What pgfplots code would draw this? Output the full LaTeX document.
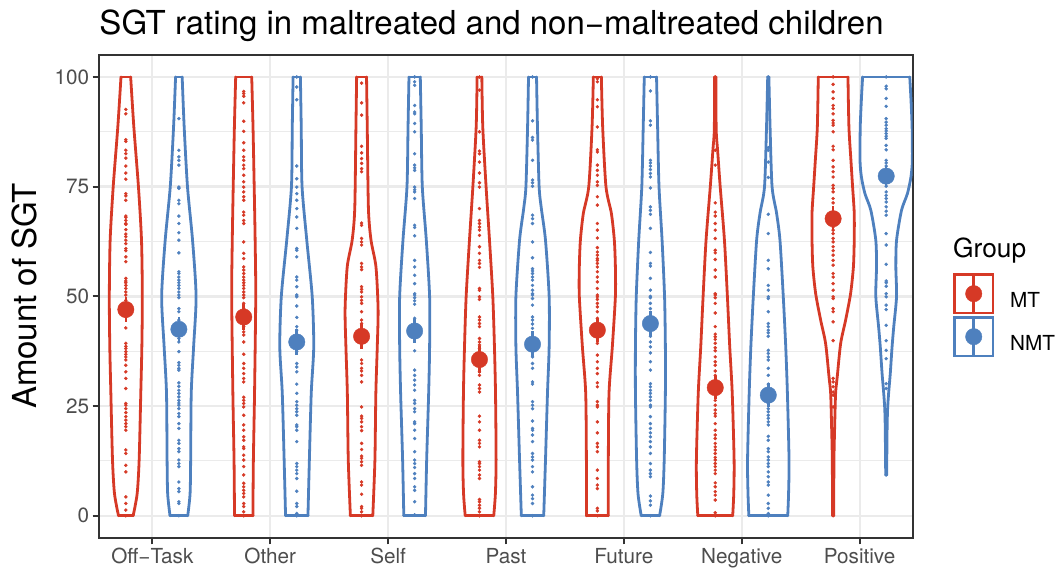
\documentclass[border=0pt]{standalone}
\usepackage{pgfplots}
\pgfplotsset{compat=1.18}
\usepackage{pgfplotstable}
\usepackage{fontspec}
\setmainfont{TeX Gyre Heros}
\definecolor{mtred}{RGB}{214,57,38}
\definecolor{nmtblue}{RGB}{78,128,190}
\definecolor{gridgray}{RGB}{235,235,235}
\definecolor{bordergray}{RGB}{51,51,51}
\definecolor{ticktext}{RGB}{77,77,77}

% violin half-widths (category units): y w
\pgfplotstableread{
y w
0 0.062
5 0.096
12.7 0.113
28 0.127
38.5 0.136
50 0.140
62.8 0.133
75 0.107
88.6 0.068
100 0.041
}\vOffMT
\pgfplotstableread{
y w
0 0.075
5 0.095
12.7 0.100
28 0.105
38.5 0.125
50 0.146
62.8 0.116
75 0.073
88.6 0.045
100 0.028
}\vOffNMT
\pgfplotstableread{
y w
0 0.078
12.7 0.082
28 0.092
50 0.102
62.8 0.097
75 0.089
88.6 0.079
100 0.068
}\vOthMT
\pgfplotstableread{
y w
0 0.095
12.7 0.107
28 0.123
38.5 0.144
50 0.131
62.8 0.085
75 0.045
88.6 0.038
100 0.031
}\vOthNMT
\pgfplotstableread{
y w
0 0.095
12.7 0.113
28 0.121
38.5 0.133
47 0.140
56.7 0.122
62.8 0.080
70 0.058
88.6 0.048
100 0.042
}\vSelfMT
\pgfplotstableread{
y w
0 0.092
12.7 0.102
28 0.119
38.5 0.127
50 0.127
62.8 0.099
75 0.065
88.6 0.056
100 0.048
}\vSelfNMT
\pgfplotstableread{
y w
0 0.121
5 0.135
12.7 0.141
28 0.136
38.5 0.127
50 0.113
62.8 0.085
75 0.056
88.6 0.028
100 0.020
}\vPastMT
\pgfplotstableread{
y w
0 0.095
12.7 0.110
28 0.127
38.5 0.141
50 0.141
62.8 0.110
70 0.075
75 0.056
88.6 0.042
100 0.034
}\vPastNMT
\pgfplotstableread{
y w
0 0.093
12.7 0.093
28 0.099
38.5 0.127
50 0.153
56.7 0.153
62.8 0.144
68.9 0.119
75 0.073
88.6 0.045
100 0.034
}\vFutMT
\pgfplotstableread{
y w
0 0.078
5 0.105
12.7 0.117
28 0.127
38.5 0.127
50 0.120
62.8 0.099
75 0.073
88.6 0.061
100 0.052
}\vFutNMT
\pgfplotstableread{
y w
0 0.148
5 0.157
12.7 0.160
28 0.144
38.5 0.123
50 0.103
62.8 0.078
75 0.042
83.3 0.020
88 0.008
100 0.006
}\vNegMT
\pgfplotstableread{
y w
0 0.165
5 0.172
12.7 0.176
28 0.162
38.5 0.148
50 0.127
62.8 0.099
69 0.070
75 0.032
88.6 0.015
100 0.005
}\vNegNMT
\pgfplotstableread{
y w
0 0.005
12.7 0.007
20.3 0.013
27.9 0.021
31.7 0.035
39.3 0.064
44.6 0.106
50.6 0.148
56.7 0.172
62.8 0.179
69 0.179
75 0.165
81 0.151
88.6 0.134
100 0.126
}\vPosMT
\pgfplotstableread{
y w
9.3 0.004
20 0.008
24.3 0.012
28 0.021
32.5 0.035
38.5 0.050
43 0.064
50 0.088
56.7 0.082
62.8 0.088
69.6 0.130
73.4 0.180
77.2 0.210
81 0.222
88.6 0.220
95 0.210
100 0.200
}\vPosNMT

\pgfplotsset{
  vmt/.style={mtred, line width=2.8pt, line join=round, line cap=round, mark=none, forget plot},
  vnmt/.style={nmtblue, line width=2.8pt, line join=round, line cap=round, mark=none, forget plot},
  dotsty/.style={only marks, mark=*, mark size=1.55pt, mark options={draw=none}, forget plot},
  mtleg/.style={legend image code/.code={
    \draw[mtred, line width=2.6pt] (0pt,-12pt) rectangle (38.4pt,26.4pt);
    \draw[mtred, line width=2.6pt] (19.2pt,-11pt) -- (19.2pt,25.3pt);
    \fill[mtred] (19.2pt,7.2pt) circle (8.2pt);}},
  nmtleg/.style={legend image code/.code={
    \draw[nmtblue, line width=2.6pt] (0pt,-12pt) rectangle (38.4pt,26.4pt);
    \draw[nmtblue, line width=2.6pt] (19.2pt,-11pt) -- (19.2pt,25.3pt);
    \fill[nmtblue] (19.2pt,7.2pt) circle (8.2pt);}},
}
% #1 style, #2 centre, #3 half-width table, #4 lowest y, #5 width there, #6 highest y, #7 width there
\newcommand{\violin}[7]{%
  \addplot[#1, smooth, tension=0.45] table[x expr=#2+\thisrow{w}, y=y]{#3};
  \addplot[#1, smooth, tension=0.45] table[x expr=#2-\thisrow{w}, y=y]{#3};
  \addplot[#1] table[row sep=\\, x expr=#2+\thisrow{w}, y=y]{y w\\ #4 -#5\\ #4 #5\\};
  \addplot[#1] table[row sep=\\, x expr=#2+\thisrow{w}, y=y]{y w\\ #6 -#7\\ #6 #7\\};
}

\begin{document}
\begin{tikzpicture}
\useasboundingbox (-99.3pt,-36.3pt) rectangle (957.7pt,537.7pt);
\begin{axis}[
  at={(0pt,0pt)}, anchor=south west,
  scale only axis, width=813.4pt, height=482.7pt,
  xmin=0.55, xmax=7.45, ymin=-5, ymax=105,
  xtick={1,2,3,4,5,6,7},
  xticklabels={Off−Task,Other,Self,Past,Future,Negative,Positive},
  ytick={0,25,50,75,100},
  minor ytick={12.5,37.5,62.5,87.5},
  xmajorgrids, ymajorgrids, yminorgrids,
  major grid style={line width=2.3pt, color=gridgray},
  minor grid style={line width=1.15pt, color=gridgray},
  axis line style={line width=2pt, color=bordergray},
  tick align=outside, tick pos=left,
  major tick length=6.7pt, minor tick length=0pt,
  tick style={line width=2pt, color=bordergray},
  ticklabel style={font=\fontsize{20.7}{24}\selectfont, text=ticktext},
  /pgf/number format/assume math mode=true,
  legend style={at={(1.0498,0.548)}, anchor=north west, draw=none, fill=none,
    inner sep=0pt, outer sep=0pt, row sep=2pt, column sep=14pt,
    font=\fontsize{20.7}{24}\selectfont},
  legend cell align=left,
]
\addlegendimage{mtleg}\addlegendentry{MT}
\addlegendimage{nmtleg}\addlegendentry{NMT}

\violin{vmt}{0.775}{\vOffMT}{0}{0.062}{100}{0.041}
\violin{vnmt}{1.225}{\vOffNMT}{0}{0.075}{100}{0.028}
\violin{vmt}{1.775}{\vOthMT}{0}{0.078}{100}{0.068}
\violin{vnmt}{2.225}{\vOthNMT}{0}{0.095}{100}{0.031}
\violin{vmt}{2.775}{\vSelfMT}{0}{0.095}{100}{0.042}
\violin{vnmt}{3.225}{\vSelfNMT}{0}{0.092}{100}{0.048}
\violin{vmt}{3.775}{\vPastMT}{0}{0.121}{100}{0.020}
\violin{vnmt}{4.225}{\vPastNMT}{0}{0.095}{100}{0.034}
\violin{vmt}{4.775}{\vFutMT}{0}{0.093}{100}{0.034}
\violin{vnmt}{5.225}{\vFutNMT}{0}{0.078}{100}{0.052}
\violin{vmt}{5.775}{\vNegMT}{0}{0.148}{100}{0.006}
\violin{vnmt}{6.225}{\vNegNMT}{0}{0.165}{100}{0.005}
\violin{vmt}{6.775}{\vPosMT}{0}{0.005}{100}{0.126}
\violin{vnmt}{7.225}{\vPosNMT}{9.3}{0.004}{100}{0.200}

% individual ratings
\addplot[dotsty, mtred] table[row sep=\\, x expr=0.775, y=y]{y\\ 92.6\\91.6\\85.7\\85.3\\83.3\\82.5\\81.5\\79.7\\78.1\\76.7\\73.4\\72.9\\71.9\\68.3\\68.0\\67.3\\66.6\\66.4\\65.2\\64.2\\63.6\\62.8\\62.0\\60.9\\60.4\\59.0\\57.9\\54.1\\53.5\\53.1\\52.5\\51.8\\51.0\\50.3\\49.1\\45.3\\42.8\\39.3\\38.6\\38.1\\37.4\\36.8\\36.2\\35.5\\34.3\\32.8\\31.3\\29.0\\25.6\\25.2\\24.4\\23.5\\22.6\\21.8\\21.0\\20.3\\19.5\\15.0\\14.2\\11.5\\10.0\\4.3\\2.8\\1.3\\0\\};
\addplot[dotsty, nmtblue] table[row sep=\\, x expr=1.225, y=y]{y\\ 90.5\\83.3\\81.8\\81.0\\79.9\\74.9\\74.6\\71.9\\71.1\\68.3\\66.6\\64.5\\62.8\\59.9\\55.6\\55.2\\54.4\\53.7\\53.1\\52.5\\51.8\\51.0\\50.3\\49.7\\47.2\\46.5\\44.6\\43.8\\40.4\\39.6\\37.4\\34.9\\34.3\\33.6\\33.2\\30.3\\29.5\\28.6\\27.9\\27.1\\26.3\\25.7\\25.2\\24.4\\23.3\\22.6\\21.0\\19.9\\17.2\\16.5\\15.3\\14.6\\12.7\\11.9\\11.2\\7.7\\6.2\\5.5\\3.2\\2.8\\0\\};
\addplot[dotsty, mtred] table[row sep=\\, x expr=1.775, y=y]{y\\ 96.7\\96.2\\95.6\\94.1\\89.9\\87.6\\85.0\\83.3\\81.8\\81.0\\79.9\\79.1\\77.6\\76.1\\74.9\\73.8\\72.7\\71.9\\69.2\\68.5\\67.3\\66.6\\62.4\\59.8\\58.6\\56.7\\56.0\\55.2\\54.4\\53.7\\53.1\\52.5\\51.8\\51.0\\50.3\\49.7\\48.4\\47.2\\43.1\\41.9\\41.2\\39.6\\36.8\\34.7\\33.6\\32.4\\31.3\\30.5\\27.0\\26.3\\25.6\\24.8\\22.9\\20.7\\19.5\\18.0\\17.2\\15.7\\15.3\\13.8\\12.7\\11.2\\9.3\\7.4\\6.6\\5.8\\5.1\\4.3\\2.8\\2.1\\0.9\\0\\};
\addplot[dotsty, nmtblue] table[row sep=\\, x expr=2.225, y=y]{y\\ 100\\97.7\\94.8\\79.7\\76.8\\74.9\\73.4\\71.9\\70.0\\68.1\\65.5\\60.9\\60.5\\59.0\\54.4\\53.7\\52.2\\50.3\\49.9\\47.8\\45.2\\43.1\\42.3\\37.4\\34.7\\33.9\\32.8\\30.0\\27.9\\26.0\\25.2\\24.4\\23.7\\22.9\\20.7\\20.3\\19.5\\16.9\\11.9\\11.2\\10.4\\9.6\\8.5\\5.6\\2.8\\2.1\\0.5\\0\\};
\addplot[dotsty, mtred] table[row sep=\\, x expr=2.775, y=y]{y\\ 98.6\\94.1\\91.3\\84.2\\82.7\\81.4\\80.3\\79.1\\78.4\\66.7\\66.2\\63.2\\62.4\\61.7\\57.5\\56.7\\56.1\\52.2\\51.6\\51.0\\49.9\\49.1\\48.4\\46.5\\44.6\\43.8\\35.5\\34.7\\33.6\\33.0\\32.0\\30.5\\24.8\\22.7\\22.2\\21.4\\20.3\\19.4\\16.5\\15.1\\13.6\\13.1\\12.3\\11.5\\7.7\\7.0\\4.9\\2.1\\1.7\\0.9\\0\\};
\addplot[dotsty, nmtblue] table[row sep=\\, x expr=3.225, y=y]{y\\ 100\\98.9\\98.1\\93.5\\92.0\\91.6\\89.4\\87.5\\82.5\\79.9\\79.3\\78.7\\74.9\\74.3\\73.8\\72.3\\66.2\\65.7\\63.8\\58.2\\56.7\\54.8\\52.9\\50.6\\50.3\\49.7\\49.0\\48.2\\45.0\\37.6\\33.2\\32.0\\30.9\\29.8\\28.6\\26.3\\25.6\\24.4\\23.7\\21.4\\21.0\\19.5\\17.6\\14.6\\12.7\\11.9\\11.0\\9.6\\8.5\\6.6\\5.8\\3.2\\0.2\\};
\addplot[dotsty, mtred] table[row sep=\\, x expr=3.775, y=y]{y\\ 100\\97.0\\87.5\\83.1\\82.5\\80.6\\78.1\\75.9\\74.9\\70.0\\67.3\\66.6\\65.8\\65.1\\63.9\\61.3\\59.8\\58.2\\57.5\\56.6\\51.8\\51.4\\49.9\\49.3\\45.3\\44.6\\43.8\\43.1\\40.4\\39.6\\38.9\\38.1\\37.0\\32.8\\32.0\\29.8\\29.0\\28.2\\22.7\\21.4\\19.5\\17.2\\16.5\\15.7\\12.3\\11.9\\11.2\\10.4\\9.3\\8.5\\3.7\\3.2\\2.4\\1.7\\0.9\\0\\};
\addplot[dotsty, nmtblue] table[row sep=\\, x expr=4.225, y=y]{y\\ 100\\90.0\\86.2\\85.6\\81.0\\76.5\\75.9\\75.1\\68.5\\67.7\\66.6\\62.4\\58.8\\56.3\\55.8\\55.2\\54.4\\53.7\\52.5\\51.4\\50.6\\50.3\\49.5\\48.0\\45.3\\44.6\\43.7\\42.7\\36.2\\34.7\\33.6\\30.5\\30.0\\26.0\\25.2\\24.4\\21.6\\19.9\\19.5\\18.4\\16.9\\14.2\\13.4\\12.7\\11.2\\10.0\\6.6\\4.7\\3.9\\2.8\\0\\};
\addplot[dotsty, mtred] table[row sep=\\, x expr=4.775, y=y]{y\\ 99.6\\98.9\\94.8\\93.2\\88.6\\83.4\\82.9\\79.9\\78.7\\77.6\\76.1\\75.3\\72.7\\70.8\\66.6\\65.1\\63.3\\61.1\\60.1\\59.4\\58.6\\58.2\\57.5\\56.7\\55.6\\54.4\\53.3\\51.8\\50.3\\49.9\\49.3\\48.4\\47.6\\46.5\\45.0\\39.3\\36.6\\35.1\\33.6\\32.4\\30.3\\29.4\\26.0\\25.2\\24.8\\21.4\\18.9\\16.5\\15.7\\14.6\\10.4\\8.5\\7.0\\6.2\\1.7\\1.1\\0\\};
\addplot[dotsty, nmtblue] table[row sep=\\, x expr=5.225, y=y]{y\\ 100\\96.8\\90.0\\89.0\\81.0\\80.4\\79.7\\78.9\\78.0\\77.2\\74.7\\70.4\\69.6\\68.7\\65.5\\60.0\\57.5\\56.9\\54.1\\51.4\\50.0\\49.7\\48.4\\47.2\\40.9\\39.6\\38.5\\37.1\\35.1\\33.2\\30.1\\29.4\\28.6\\27.9\\27.1\\26.3\\25.2\\24.8\\22.6\\21.0\\19.9\\18.9\\18.0\\16.9\\15.7\\14.2\\11.9\\10.4\\9.6\\8.9\\4.5\\3.4\\2.4\\0\\};
\addplot[dotsty, mtred] table[row sep=\\, x expr=5.775, y=y]{y\\ 100\\83.3\\79.9\\71.3\\69.2\\68.3\\66.6\\65.1\\63.2\\60.5\\59.9\\58.4\\56.0\\54.4\\50.6\\50.3\\49.7\\48.4\\46.2\\43.1\\41.4\\40.8\\40.2\\39.3\\38.3\\37.6\\36.2\\35.1\\34.3\\33.0\\32.0\\26.3\\25.2\\24.1\\23.3\\22.7\\21.0\\19.5\\18.4\\17.6\\16.5\\15.7\\15.0\\14.2\\13.3\\12.7\\11.9\\11.2\\10.4\\9.6\\7.5\\6.6\\5.5\\4.7\\3.6\\0.7\\0\\};
\addplot[dotsty, nmtblue] table[row sep=\\, x expr=6.225, y=y]{y\\ 100\\83.9\\83.3\\80.6\\77.1\\68.7\\64.3\\58.2\\56.3\\52.5\\51.4\\49.9\\49.5\\46.5\\43.8\\43.1\\42.3\\41.7\\40.9\\37.7\\37.0\\36.2\\35.5\\33.6\\32.0\\30.0\\25.6\\24.4\\23.7\\22.9\\22.2\\21.4\\20.7\\18.1\\17.2\\15.3\\14.6\\13.4\\12.7\\11.9\\11.2\\10.0\\8.9\\7.7\\7.0\\4.7\\2.8\\1.7\\0.5\\0\\};
\addplot[dotsty, mtred] table[row sep=\\, x expr=6.775, y=y]{y\\ 100\\98.3\\96.6\\95.1\\93.5\\92.8\\91.6\\90.1\\89.5\\89.0\\87.5\\84.2\\83.4\\81.0\\79.5\\78.4\\77.2\\75.3\\74.6\\73.8\\72.3\\71.3\\65.8\\65.1\\64.3\\63.2\\62.4\\61.3\\60.4\\59.4\\58.2\\57.1\\55.2\\54.4\\52.9\\51.4\\49.9\\49.5\\47.2\\46.5\\44.2\\39.9\\31.3\\30.5\\29.4\\28.2\\27.5\\24.8\\19.4\\0\\};
\addplot[dotsty, nmtblue] table[row sep=\\, x expr=7.225, y=y]{y\\ 100\\97.9\\97.3\\95.1\\93.3\\90.5\\89.7\\89.0\\88.2\\87.7\\87.1\\86.5\\86.0\\84.4\\83.4\\81.0\\80.4\\79.7\\77.2\\76.1\\75.1\\73.8\\73.0\\72.3\\71.5\\70.4\\69.4\\68.5\\64.3\\61.7\\57.3\\53.5\\53.1\\52.3\\50.6\\49.9\\48.0\\47.0\\43.4\\39.9\\37.7\\35.8\\30.1\\29.0\\9.3\\};

% means with standard errors
\addplot[only marks, mark=*, mark size=8.2pt, mtred, mark options={draw=none}, forget plot,
  error bars/.cd, y dir=both, y explicit, error mark=none,
  error bar style={line width=2.6pt, mtred}]
  coordinates {(0.775,47.0) +- (0,2.8) (1.775,45.3) +- (0,2.9) (2.775,40.9) +- (0,2.8)
   (3.775,35.6) +- (0,3.0) (4.775,42.3) +- (0,2.8) (5.775,29.2) +- (0,2.7) (6.775,67.7) +- (0,2.8)};
\addplot[only marks, mark=*, mark size=8.2pt, nmtblue, mark options={draw=none}, forget plot,
  error bars/.cd, y dir=both, y explicit, error mark=none,
  error bar style={line width=2.6pt, nmtblue}]
  coordinates {(1.225,42.5) +- (0,2.8) (2.225,39.6) +- (0,3.0) (3.225,42.1) +- (0,2.8)
   (4.225,39.1) +- (0,2.9) (5.225,43.8) +- (0,2.8) (6.225,27.5) +- (0,2.8) (7.225,77.4) +- (0,2.4)};
\end{axis}
\node[anchor=base west, inner sep=0pt, font=\fontsize{33}{40}\selectfont] at (0pt,502.7pt)
  {SGT rating in maltreated and non−maltreated children};
\node[anchor=base, rotate=90, inner sep=0pt, font=\fontsize{33}{40}\selectfont] at (-62.3pt,241.7pt)
  {Amount of SGT};
\node[anchor=base west, inner sep=0pt, font=\fontsize{26.3}{30}\selectfont] at (853.7pt,280.4pt) {Group};
\end{tikzpicture}
\end{document}
